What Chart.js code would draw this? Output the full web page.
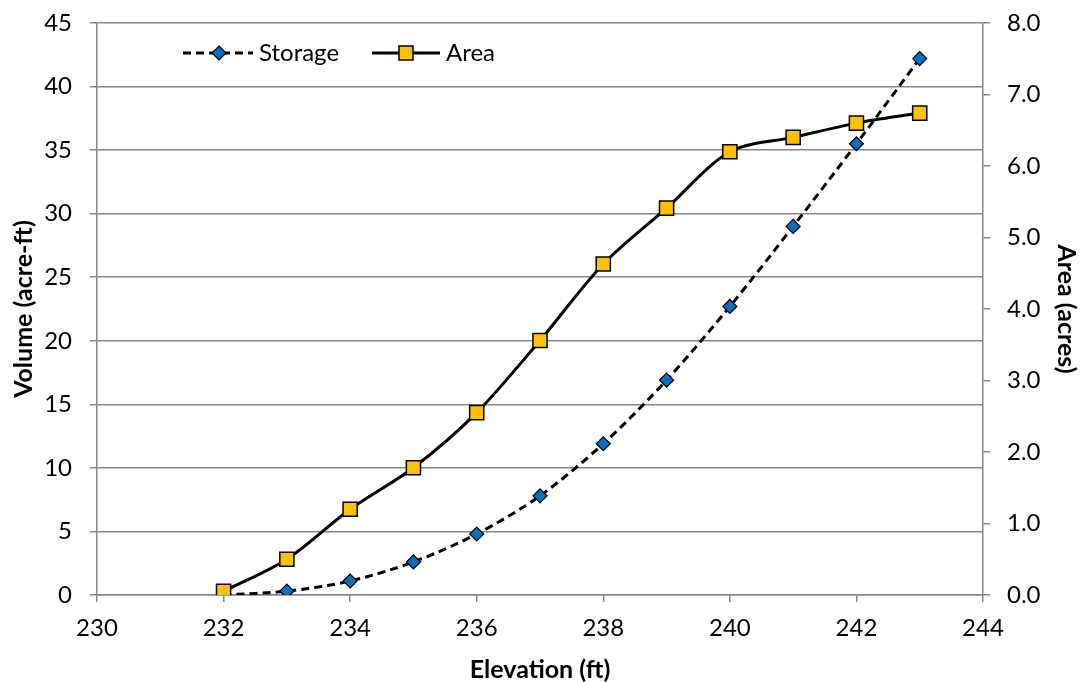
<!DOCTYPE html>
<html>
<head>
<meta charset="utf-8">
<script src="https://cdn.jsdelivr.net/npm/chart.js@4.4.1/dist/chart.umd.min.js"></script>
<style>
  html, body { margin: 0; padding: 0; background: #fff; }
  #wrap { width: 1080px; height: 682px; position: relative; }
</style>
</head>
<body>
<div id="wrap"><canvas id="c" width="1080" height="682"></canvas></div>
<script>
const elevations = [232, 233, 234, 235, 236, 237, 238, 239, 240, 241, 242, 243];
const storageVolume = [0, 0.3, 1.1, 2.6, 4.8, 7.8, 11.9, 16.9, 22.7, 29.0, 35.5, 42.2];
const areaAcres = [0.05, 0.5, 1.2, 1.78, 2.55, 3.56, 4.63, 5.41, 6.2, 6.4, 6.6, 6.74];
const seriesNames = ['Storage', 'Area'];
const xTicks = [230, 232, 234, 236, 238, 240, 242, 244];
const volumeTicks = [0, 5, 10, 15, 20, 25, 30, 35, 40, 45];
const areaTicks = [0, 1, 2, 3, 4, 5, 6, 7, 8];

const FONT = 'Lato, "Open Sans", sans-serif';
const AXIS = '#868686';

const legendPlugin = {
  id: 'insideLegend',
  afterDraw(chart) {
    const ctx = chart.ctx;
    const y = 53;
    ctx.save();
    // Storage
    ctx.strokeStyle = '#000';
    ctx.lineWidth = 3;
    ctx.setLineDash([8, 5]);
    ctx.beginPath(); ctx.moveTo(183, y); ctx.lineTo(253, y); ctx.stroke();
    ctx.setLineDash([]);
    ctx.fillStyle = '#0070C0';
    ctx.lineWidth = 1.2;
    ctx.beginPath();
    ctx.moveTo(219, y - 7); ctx.lineTo(226, y); ctx.lineTo(219, y + 7); ctx.lineTo(212, y); ctx.closePath();
    ctx.fill(); ctx.stroke();
    // Area
    ctx.lineWidth = 3;
    ctx.beginPath(); ctx.moveTo(372, y); ctx.lineTo(440, y); ctx.stroke();
    ctx.fillStyle = '#FFC000';
    ctx.lineWidth = 1.5;
    ctx.fillRect(399, y - 7, 14, 14);
    ctx.strokeRect(399, y - 7, 14, 14);
    ctx.fillStyle = '#000';
    ctx.font = '24px ' + FONT;
    ctx.textBaseline = 'alphabetic';
    ctx.fillText(seriesNames[0], 259, 61);
    ctx.fillText(seriesNames[1], 446, 61);
    ctx.restore();
  }
};

function fixV(w) {
  return s => { s.width = w; s.paddingTop = 0; s.paddingBottom = 0; };
}

new Chart(document.getElementById('c'), {
  type: 'line',
  data: {
    datasets: [
      {
        label: seriesNames[1],
        data: elevations.map((x, i) => ({ x, y: areaAcres[i] })),
        yAxisID: 'yArea',
        borderColor: '#000',
        borderWidth: 3,
        tension: 0.3,
        pointStyle: 'rect',
        pointRadius: 10,
        pointBackgroundColor: '#FFC000',
        pointBorderColor: '#000',
        pointBorderWidth: 1.5,
        order: 0
      },
      {
        label: seriesNames[0],
        data: elevations.map((x, i) => ({ x, y: storageVolume[i] })),
        yAxisID: 'yVol',
        borderColor: '#000',
        borderWidth: 3,
        borderDash: [8, 5],
        tension: 0.3,
        pointStyle: 'rectRot',
        pointRadius: 7,
        pointBackgroundColor: '#0070C0',
        pointBorderColor: '#000',
        pointBorderWidth: 1.2,
        order: 1
      }
    ]
  },
  options: {
    responsive: false,
    animation: false,
    layout: { padding: { top: 23, left: 0, right: 0, bottom: 0 } },
    plugins: { legend: { display: false }, tooltip: { enabled: false } },
    scales: {
      x: {
        type: 'linear',
        min: 230, max: 244,
        afterBuildTicks: s => { s.ticks = xTicks.map(v => ({ value: v })); },
        grid: { drawOnChartArea: false, drawTicks: true, tickLength: 7, color: AXIS, lineWidth: 1.5 },
        border: { color: AXIS, width: 1.5 },
        ticks: { color: '#000', font: { family: FONT, size: 24 }, padding: 12 },
        title: { display: true, text: 'Elevation (ft)', color: '#000', font: { family: FONT, size: 25, weight: 'bold' }, padding: { top: 0, bottom: -3 } },
        afterFit: s => { s.height = 87; s.paddingLeft = 0; s.paddingRight = 0; }
      },
      yVol: {
        type: 'linear',
        position: 'left',
        min: 0, max: 45,
        afterBuildTicks: s => { s.ticks = volumeTicks.map(v => ({ value: v })); },
        grid: { color: AXIS, lineWidth: 1.5, drawTicks: true, tickLength: 7 },
        border: { color: AXIS, width: 1.5 },
        ticks: { color: '#000', font: { family: FONT, size: 24 }, padding: 18 },
        title: { display: true, text: 'Volume (acre-ft)', color: '#000', font: { family: FONT, size: 25, weight: 'bold' }, padding: { top: 9, bottom: 0 } },
        afterFit: fixV(97)
      },
      yArea: {
        type: 'linear',
        position: 'right',
        min: 0, max: 8,
        afterBuildTicks: s => { s.ticks = areaTicks.map(v => ({ value: v })); },
        grid: { drawOnChartArea: false, color: AXIS, lineWidth: 1.5, drawTicks: true, tickLength: 7 },
        border: { color: AXIS, width: 1.5 },
        ticks: { color: '#000', font: { family: FONT, size: 24 }, padding: 17, callback: v => Number(v).toFixed(1) },
        title: { display: true, text: 'Area (acres)', color: '#000', font: { family: FONT, size: 25, weight: 'bold' }, padding: { top: -1, bottom: 0 } },
        afterFit: fixV(97)
      }
    }
  },
  plugins: [legendPlugin]
});
</script>
</body>
</html>
